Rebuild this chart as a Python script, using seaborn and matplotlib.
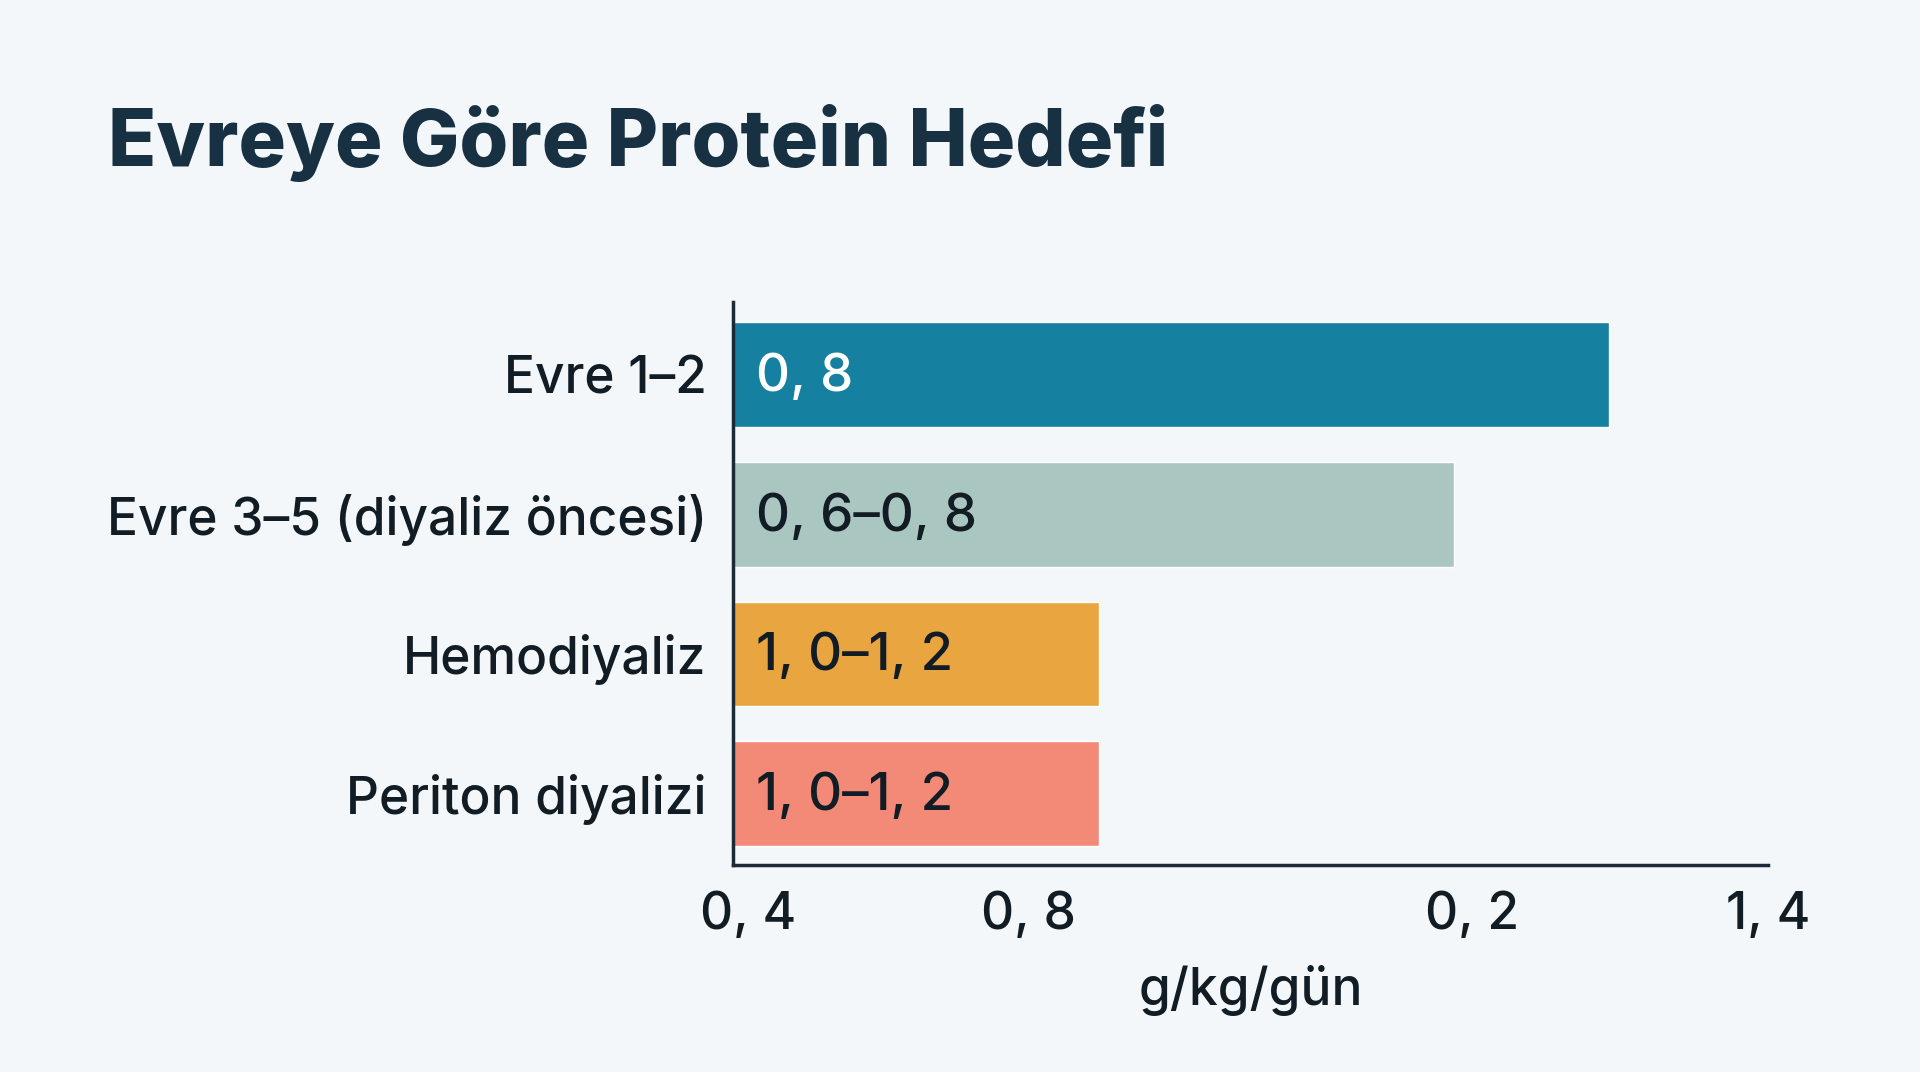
import pandas as pd
import matplotlib.pyplot as plt
import seaborn as sns

# Veriler
evreler = ["Evre 1–2", "Evre 3–5 (diyaliz öncesi)", "Hemodiyaliz", "Periton diyalizi"]
bar_uzunlugu = [1.185, 0.975, 0.495, 0.495]
etiketler = ["0, 8", "0, 6–0, 8", "1, 0–1, 2", "1, 0–1, 2"]
renkler = ["#15809F", "#AAC6C1", "#E8A540", "#F38A77"]
etiket_renkleri = ["#FFFFFF", "#111C24", "#111C24", "#111C24"]
tik_degerleri = [0.02, 0.4, 1.0, 1.4]
tik_etiketleri = ["0, 4", "0, 8", "0, 2", "1, 4"]

ARKA_PLAN = "#F4F7F9"
KOYU = "#111C24"

sns.set_theme(style="white")
plt.rcParams['font.family'] = ['Inter', 'DejaVu Sans']
plt.rcParams['font.weight'] = 'medium'

df = pd.DataFrame({"Evre": evreler, "Deger": bar_uzunlugu})

fig = plt.figure(figsize=(19.2, 10.72), dpi=100, facecolor=ARKA_PLAN)
ax = fig.add_axes([0.3818, 0.1931, 0.539, 0.5252])
ax.set_facecolor(ARKA_PLAN)

sns.barplot(data=df, x="Deger", y="Evre", hue="Evre", palette=renkler,
            width=0.75, saturation=1, legend=False, ax=ax)

for i, (etiket, renk) in enumerate(zip(etiketler, etiket_renkleri)):
    ax.text(0.031, i + 0.02, etiket, color=renk, fontsize=38,
            fontweight="medium", va="center", ha="left")

ax.set_xlim(0, 1.4)
ax.set_ylim(3.51, -0.52)
ax.set_xticks(tik_degerleri)
ax.set_xticklabels(tik_etiketleri, fontweight="medium")
ax.set_yticks(range(len(evreler)))
ax.set_yticklabels(evreler, fontweight="medium")
ax.tick_params(axis="x", labelsize=37, colors=KOYU, length=0, pad=19)
ax.tick_params(axis="y", labelsize=37, colors=KOYU, length=0, pad=19)
ax.set_xlabel("g/kg/gün", fontsize=37, fontweight="medium", color=KOYU, labelpad=18)
ax.set_ylabel("")

sns.despine(ax=ax)
for s in ["left", "bottom"]:
    ax.spines[s].set_color("#1B2A36")
    ax.spines[s].set_linewidth(2.5)

fig.text(0.056, 0.8666, "Evreye Göre Protein Hedefi", fontsize=57,
         fontweight="heavy", color="#173042", va="center", ha="left")

plt.savefig("out.png", dpi=100, facecolor=ARKA_PLAN)
plt.close()
